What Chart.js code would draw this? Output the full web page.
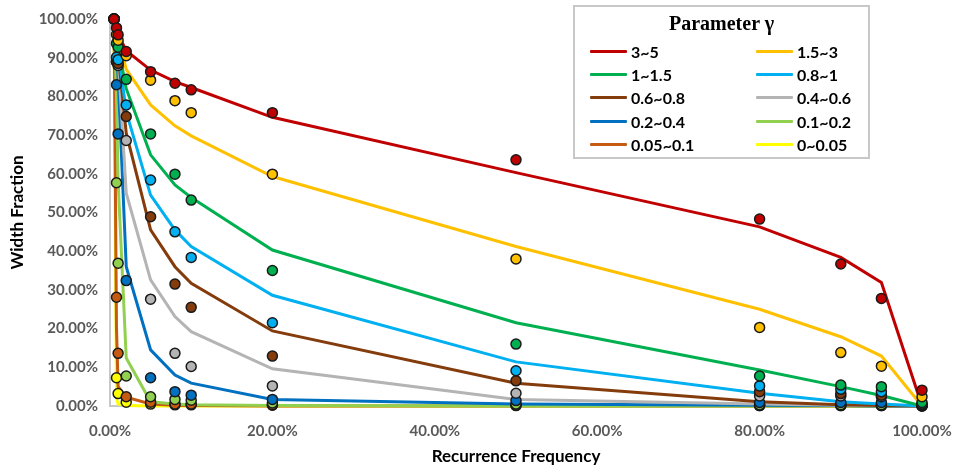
<!DOCTYPE html>
<html>
<head>
<meta charset="utf-8">
<script src="https://cdn.jsdelivr.net/npm/chart.js@4/dist/chart.umd.min.js"></script>
<style>
  body { margin: 0; background: #fff; }
  .wrap { position: relative; width: 957px; height: 470px; }
  #chart { position: absolute; left: 0; top: 0; }
  .legend {
    position: absolute; left: 573px; top: 5px; width: 297px; height: 154px;
    box-sizing: border-box; border: 2px solid #c8c8c8; background: #fff;
  }
  .legend-title {
    position: absolute; left: 0; right: 0; top: 5px; text-align: center;
    font: bold 20px "Liberation Serif", "DejaVu Serif", serif; color: #000;
  }
  .legend-grid {
    position: absolute; left: 15px; top: 33px;
    display: grid; grid-template-columns: 166px 120px; grid-auto-rows: 23.2px;
  }
  .item { display: flex; align-items: center; font: bold 16px Lato, sans-serif; color: #000; }
  .swatch { width: 37px; height: 3px; margin-right: 4px; border-radius: 1px; }
</style>
</head>
<body>
<div class="wrap">
  <canvas id="chart" width="957" height="470"></canvas>
  <div class="legend">
    <div class="legend-title">Parameter γ</div>
    <div class="legend-grid" id="legend-grid"></div>
  </div>
</div>
<script>
// 横軸（再現頻度 %）
const freq = [0.5, 0.8, 1, 2, 5, 8, 10, 20, 50, 80, 90, 95, 100];

const groups = ['3~5', '1.5~3', '1~1.5', '0.8~1', '0.6~0.8', '0.4~0.6', '0.2~0.4', '0.1~0.2', '0.05~0.1', '0~0.05'];
const colors = ['#c00000', '#ffc000', '#00b050', '#00b0f0', '#843c0c', '#b4b4b4', '#0070c0', '#92d050', '#c55a11', '#ffff00'];

// 実測点
const dots35 = [100, 97.7, 95.9, 91.6, 86.4, 83.4, 81.7, 75.8, 63.6, 48.3, 36.7, 27.8, 4.1];
const dots153 = [100, 96, 94.5, 90.5, 84.2, 78.9, 75.8, 59.9, 38, 20.3, 13.8, 10.3, 2.4];
const dots115 = [100, 93.7, 92.7, 84.4, 70.3, 59.9, 53.2, 35, 16, 7.75, 5.4, 5, 0.9];
const dots081 = [100, 90.1, 89.5, 77.8, 58.4, 45, 38.4, 21.5, 9.1, 5.2, 4.3, 3.7, 0.5];
const dots0608 = [100, 89, 88.5, 74.8, 48.9, 31.5, 25.5, 12.9, 6.5, 3.7, 3.2, 2.8, 0.3];
const dots0406 = [100, 88.9, 88, 68.6, 27.6, 13.6, 10.2, 5.2, 3.3, 2.6, 2.6, 2.4, 0.2];
const dots0204 = [100, 83, 70.3, 32.4, 7.3, 3.7, 2.8, 1.7, 1.4, 0.9, 0.9, 0.9, 0.1];
const dots0102 = [100, 57.7, 36.9, 7.75, 2.4, 1.7, 1.5, 0.8, 0.5, 0.3, 0.3, 0.3, 0];
const dots00501 = [100, 28.1, 13.6, 2.4, 1, 0.5, 0.5, 0.3, 0.2, 0.1, 0.1, 0.1, 0];
const dots0005 = [100, 7.3, 3.2, 1, 0.5, 0.3, 0.3, 0.2, 0.1, 0.1, 0.1, 0.1, 0];

// フィット曲線
const fit35 = [100, 97.5, 96, 91.8, 86.8, 83.8, 82.3, 74.6, 60.3, 46.3, 38.4, 31.9, 0];
const fit153 = [100, 97, 95, 87, 77.8, 72.4, 69.8, 59.3, 41.2, 25, 17.9, 12.9, 0];
const fit115 = [100, 96, 93, 82, 64.9, 57.1, 53.9, 40.3, 21.5, 9.3, 5, 2.7, 0];
const fit081 = [100, 95.5, 92, 76, 54.5, 45.5, 41.2, 28.6, 11.4, 3.3, 1.1, 0.5, 0];
const fit0608 = [100, 95, 91, 70.5, 45.5, 36, 31.7, 19.4, 5.9, 1.1, 0.3, 0.1, 0];
const fit0406 = [100, 94, 90, 55, 32.6, 23.1, 19.2, 9.6, 1.7, 0.5, 0.2, 0.1, 0];
const fit0204 = [100, 92, 85, 36, 14.5, 8, 5.9, 1.7, 0.5, 0.2, 0.1, 0, 0];
const fit0102 = [100, 80, 58, 12.4, 1.1, 0.5, 0.3, 0.1, 0, 0, 0, 0, 0];
const fit00501 = [100, 20, 5, 2.3, 0.5, 0.2, 0.1, 0, 0, 0, 0, 0, 0];
const fit0005 = [100, 2, 0.5, 0.1, 0, 0, 0, 0, 0, 0, 0, 0, 0];

const xTicks = [0, 20, 40, 60, 80, 100];

const dotSeries = [dots35, dots153, dots115, dots081, dots0608, dots0406, dots0204, dots0102, dots00501, dots0005];
const fitSeries = [fit35, fit153, fit115, fit081, fit0608, fit0406, fit0204, fit0102, fit00501, fit0005];

const toPoints = vals => vals.map((v, i) => ({ x: freq[i], y: v }));

// 凡例
document.getElementById('legend-grid').innerHTML = groups.map((g, i) => `
  <div class="item"><span class="swatch" style="background:${colors[i]}"></span>${g}</div>
`).join('');

const datasets = [];
dotSeries.forEach((vals, i) => {
  datasets.push({
    label: groups[i] + ' data',
    data: toPoints(vals),
    showLine: false,
    pointRadius: 5,
    pointBorderWidth: 1.5,
    pointBackgroundColor: colors[i],
    pointBorderColor: '#1a1a1a',
    order: i,
    clip: false
  });
});
fitSeries.forEach((vals, i) => {
  datasets.push({
    label: groups[i],
    data: toPoints(vals),
    showLine: true,
    borderColor: colors[i],
    borderWidth: 3,
    pointRadius: 0,
    tension: 0,
    order: 20 + i,
    clip: false
  });
});

const tickFont = { family: 'Lato', size: 15, weight: 'bold' };
const titleFont = { family: 'Lato', size: 17, weight: 'bold' };

new Chart(document.getElementById('chart'), {
  type: 'scatter',
  data: { datasets },
  options: {
    responsive: false,
    animation: false,
    layout: { padding: { top: 19, right: 35, left: 0, bottom: 0 } },
    plugins: { legend: { display: false }, tooltip: { enabled: false } },
    scales: {
      x: {
        type: 'linear', min: 0, max: 100,
        afterBuildTicks: s => { s.ticks = xTicks.map(v => ({ value: v })); },
        ticks: { callback: v => v.toFixed(2) + '%', color: '#595959', font: tickFont, padding: 16, maxRotation: 0 },
        grid: { display: true, drawOnChartArea: false, drawTicks: false },
        border: { color: '#c8c8c8', width: 2 },
        title: { display: true, text: 'Recurrence Frequency', color: '#000', font: titleFont, padding: { top: 0, bottom: 3 } },
        afterFit: s => { s.height = 64; s.paddingLeft = 0; s.paddingRight = 0; }
      },
      y: {
        min: 0, max: 100,
        ticks: { stepSize: 10, callback: v => v.toFixed(2) + '%', color: '#595959', font: tickFont, padding: 12 },
        grid: { display: true, drawOnChartArea: false, drawTicks: false },
        border: { color: '#c8c8c8', width: 2 },
        title: { display: true, text: 'Width Fraction', color: '#000', font: titleFont, padding: { top: 7, bottom: 0 } },
        afterFit: s => { s.width = 110; s.paddingTop = 0; s.paddingBottom = 0; }
      }
    }
  }
});
</script>
</body>
</html>
